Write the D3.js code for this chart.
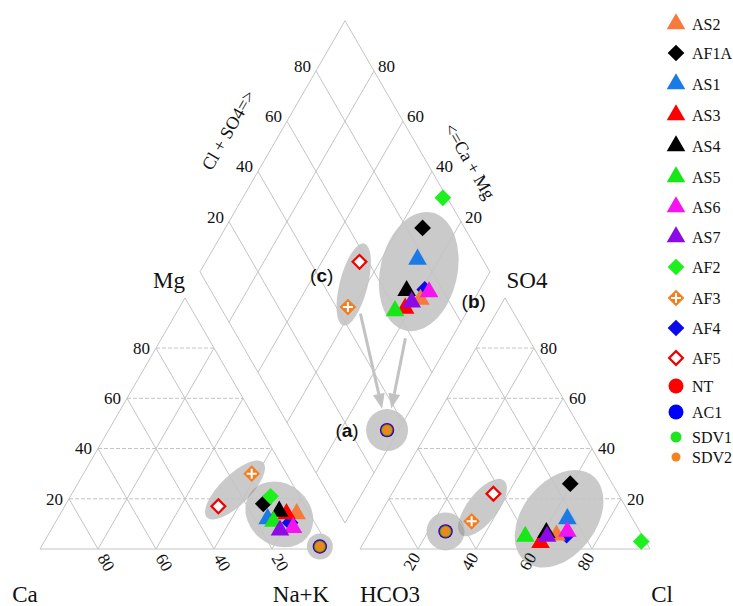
<!DOCTYPE html>
<html>
<head>
<meta charset="utf-8">
<script src="https://cdn.jsdelivr.net/npm/d3@7"></script>
<style>
body { margin: 0; background: #fff; }
svg { display: block; }
</style>
</head>
<body>
<svg id="chart" width="733" height="606"></svg>
<script>
// samples, in legend order
var series = ["AS2", "AF1A", "AS1", "AS3", "AS4", "AS5", "AS6", "AS7", "AF2", "AF3", "AF4", "AF5", "NT", "AC1", "SDV1", "SDV2"];

// cations, % meq
var ca  = [4.5, 14, 15.5, 8, 10, 14, 8.5, 13.5, 10, 12, 8.5, 30, 3, 3, 3, 3];
var mg  = [14, 18, 12, 14, 15, 11, 8.5, 7.5, 21, 30, 10.5, 17, 1, 1, 1, 1];
var nak = [81.5, 68, 72.5, 78, 75, 75, 83, 79, 69, 58, 81, 53, 96, 96, 96, 96];

// anions, % meq
var hco3 = [29.5, 14.5, 22.5, 36.5, 32.5, 40.5, 25, 33, 1.5, 56, 26, 43, 67, 67, 67, 67];
var so4  = [5.5, 26, 12, 2.5, 6.5, 5, 7, 5, 3, 11, 5.5, 22, 7, 7, 7, 7];
var cl   = [65, 59.5, 65.5, 61, 61, 54.5, 68, 62, 95.5, 33, 68.5, 35, 26, 26, 26, 26];

var ticks = [20, 40, 60, 80];

// groups that get a grey shading
var groupC = ["AF5", "AF3"];
var groupB = ["AS2", "AF1A", "AS1", "AS3", "AS4", "AS5", "AS6", "AS7", "AF4"];
var groupA = ["NT", "AC1", "SDV1", "SDV2"];

// marker styles
var shapes = ["tri", "dia", "tri", "tri", "tri", "tri", "tri", "tri", "dia", "cross", "dia", "open", "circ", "circ", "circ", "circ"];
var colors = ["#f57a3c", "#000000", "#1b7be6", "#ff0000", "#000000", "#17e617", "#f514f0", "#8c0ae6", "#1ef01e", "#f57d1e", "#0a0aeb", "#f00000", "#ff0000", "#0000ff", "#1ee61e", "#f5821e"];
var radii = {NT: 6.3, AC1: 7.2, SDV1: 5.4, SDV2: 4.4};
var legendR = {NT: 7.5, AC1: 7.5, SDV1: 5.5, SDV2: 4.5};
var drawOrder = ["AF1A", "AF2", "AF3", "AF4", "AF5", "AS2", "AS1", "AS3", "AS4", "AS5", "AS6", "AS7", "AC1", "NT", "SDV1", "SDV2"];

var serif = "'Liberation Serif', 'DejaVu Serif', 'Times New Roman', serif";
var svg = d3.select("#chart").attr("font-family", serif);

var L = 290, H = L * Math.sqrt(3) / 2, gap = 30;
var cat0 = [40, 549], an0 = [40 + L + gap, 549];
var dB = [40 + L + gap / 2, 549 - gap / 2 * Math.sqrt(3)];

var s  = d3.scaleLinear().domain([0, 100]).range([0, L]);
var sx = d3.scaleLinear().domain([0, 100]).range([0, L / 2]);
var sy = d3.scaleLinear().domain([0, 100]).range([0, H]);

function cation(top, right) { return [cat0[0] + s(right) + sx(top), cat0[1] - sy(top)]; }
function anion(top, right) { return [an0[0] + s(right) + sx(top), an0[1] - sy(top)]; }
function diamond(c, t) { return [dB[0] + sx(t) - sx(c), dB[1] - sy(c) - sy(t)]; }

var gridCol = "#c4c4c4";
var line = d3.line();

var gHull = svg.append("g");
var gGrid = svg.append("g").attr("fill", "none").attr("stroke", gridCol).attr("stroke-width", 1);
var gPts = svg.append("g");
var gTxt = svg.append("g").attr("fill", "#111");

// ---- grids
function triGrid(P) {
	ticks.forEach(function (t) {
		gGrid.append("path").attr("d", line([P(t, 0), P(t, 100 - t)])).attr("stroke-dasharray", "4,2");
		gGrid.append("path").attr("d", line([P(0, t), P(100 - t, t)]));
		gGrid.append("path").attr("d", line([P(0, 100 - t), P(100 - t, 0)]));
	});
	gGrid.append("path").attr("d", line([P(0, 0), P(0, 100), P(100, 0)]) + "Z");
}
triGrid(cation);
triGrid(anion);

ticks.forEach(function (t) {
	gGrid.append("path").attr("d", line([diamond(t, 0), diamond(t, 100)]));
	gGrid.append("path").attr("d", line([diamond(0, t), diamond(100, t)]));
});
gGrid.append("path").attr("d", line([diamond(0, 0), diamond(100, 0), diamond(100, 100), diamond(0, 100)]) + "Z");

// ---- positions of every sample in the three fields
var idx = {};
series.forEach(function (n, i) { idx[n] = i; });
var posCat = series.map(function (n, i) { return cation(mg[i], nak[i]); });
var posAn = series.map(function (n, i) { return anion(so4[i], cl[i]); });
var posDia = series.map(function (n, i) { return diamond(100 - nak[i], so4[i] + cl[i]); });

// ---- grey shadings: ellipse along the main direction of the group
function shade(pos, members, pad) {
	var pts = members.map(function (n) { return pos[idx[n]]; });
	var mx = d3.mean(pts, function (p) { return p[0]; }), my = d3.mean(pts, function (p) { return p[1]; });
	var sxx = 0, syy = 0, sxy = 0;
	pts.forEach(function (p) { var dx = p[0] - mx, dy = p[1] - my; sxx += dx * dx; syy += dy * dy; sxy += dx * dy; });
	var a = 0.5 * Math.atan2(2 * sxy, sxx - syy);
	var ux = Math.cos(a), uy = Math.sin(a);
	var us = pts.map(function (p) { return (p[0] - mx) * ux + (p[1] - my) * uy; });
	var vs = pts.map(function (p) { return -(p[0] - mx) * uy + (p[1] - my) * ux; });
	var u0 = d3.min(us), u1 = d3.max(us), v0 = d3.min(vs), v1 = d3.max(vs);
	var cu = (u0 + u1) / 2, cv = (v0 + v1) / 2;
	var cx = mx + cu * ux - cv * uy, cy = my + cu * uy + cv * ux;
	var rx = (u1 - u0) / 2 + pad[0], ry = (v1 - v0) / 2 + pad[1];
	gHull.append("ellipse")
		.attr("cx", 0).attr("cy", 0).attr("rx", rx).attr("ry", ry)
		.attr("transform", "translate(" + cx + "," + cy + ") rotate(" + (a * 180 / Math.PI) + ")")
		.attr("fill", "#7a7a7a").attr("fill-opacity", 0.4);
	return {x: cx, y: cy, rx: rx, ry: ry};
}

shade(posCat, groupC, [16, 15]);
shade(posCat, groupB.concat(["AF2"]), [17, 19]);
shade(posCat, groupA, [13, 13]);
shade(posAn, groupC, [17, 15]);
shade(posAn, groupB, [20, 21]);
shade(posAn, groupA, [19, 19]);
var hc = shade(posDia, groupC, [19, 14]);
var hb = shade(posDia, groupB, [17, 24]);
var ha = shade(posDia, groupA, [21, 21]);

// ---- arrows (b),(c) -> (a)
function arrow(from, d0, to, d1) {
	var dx = to.x - from.x, dy = to.y - from.y, len = Math.sqrt(dx * dx + dy * dy);
	var ux = dx / len, uy = dy / len;
	var x0 = from.x + ux * d0, y0 = from.y + uy * d0;
	var x1 = to.x - ux * d1, y1 = to.y - uy * d1;
	var hl = 15, hw = 6;
	var bx = x1 - ux * hl, by = y1 - uy * hl;
	gHull.append("path").attr("d", line([[x0, y0], [bx, by]]))
		.attr("stroke", "#c2c2c2").attr("stroke-width", 3).attr("fill", "none");
	gHull.append("path").attr("d", line([[x1, y1], [bx - uy * hw, by + ux * hw], [bx + uy * hw, by - ux * hw]]) + "Z")
		.attr("fill", "#c2c2c2");
}
arrow(hc, 30, ha, 22);
arrow(hb, 68, ha, 22);

// ---- markers
function marker(g, i, x, y, legend) {
	var n = series[i], sh = shapes[i], col = colors[i];
	var t = "translate(" + x + "," + y + ")";
	if (sh == "tri") {
		g.append("path").attr("d", d3.symbol(d3.symbolTriangle, 150)()).attr("transform", t).attr("fill", col);
	} else if (sh == "dia") {
		g.append("path").attr("d", d3.symbol(d3.symbolSquare, 140)()).attr("transform", t + " rotate(45)").attr("fill", col);
	} else if (sh == "cross") {
		g.append("path").attr("d", d3.symbol(d3.symbolSquare, 140)()).attr("transform", t + " rotate(45)").attr("fill", col);
		g.append("path").attr("d", "M-5,0H5M0,-5V5").attr("transform", t).attr("stroke", "#fff").attr("stroke-width", 2);
	} else if (sh == "open") {
		g.append("path").attr("d", d3.symbol(d3.symbolSquare, 95)()).attr("transform", t + " rotate(45)")
			.attr("fill", "#fff").attr("stroke", col).attr("stroke-width", 2.2);
	} else {
		g.append("circle").attr("cx", x).attr("cy", y).attr("r", legend ? legendR[n] : radii[n]).attr("fill", col);
	}
}

[posCat, posAn, posDia].forEach(function (pos) {
	drawOrder.forEach(function (n) {
		var i = idx[n];
		marker(gPts, i, pos[i][0], pos[i][1], false);
	});
});

// ---- tick labels
ticks.forEach(function (t) {
	var p = cation(t, 0);
	gTxt.append("text").attr("x", p[0] - 6).attr("y", p[1]).attr("dy", "0.35em")
		.attr("text-anchor", "end").attr("font-size", 17).text(t);
	p = cation(0, t);
	gTxt.append("text").attr("transform", "translate(" + (p[0] - 1) + "," + (p[1] + 9) + ") rotate(60)")
		.attr("font-size", 17).text(100 - t);
	p = anion(t, 100 - t);
	gTxt.append("text").attr("x", p[0] + 6).attr("y", p[1]).attr("dy", "0.35em")
		.attr("font-size", 17).text(t);
	p = anion(0, t);
	gTxt.append("text").attr("transform", "translate(" + (p[0] + 3) + "," + (p[1] + 8) + ") rotate(-60)")
		.attr("text-anchor", "end").attr("font-size", 17).text(t);
	p = diamond(100, t);
	gTxt.append("text").attr("x", p[0] - 5).attr("y", p[1] - 5).attr("dy", "0.35em")
		.attr("text-anchor", "end").attr("font-size", 17).text(t);
	p = diamond(t, 100);
	gTxt.append("text").attr("x", p[0] + 4).attr("y", p[1] - 5).attr("dy", "0.35em")
		.attr("font-size", 17).text(t);
});

// ---- axis titles
function title(txt, x, y, size, rot) {
	gTxt.append("text").attr("transform", "translate(" + x + "," + y + ")" + (rot ? " rotate(" + rot + ")" : ""))
		.attr("text-anchor", "middle").attr("font-size", size).text(txt);
}
var capex = cation(100, 0), aapex = anion(100, 0);
title("Mg", capex[0] - 16, capex[1] - 10, 23);
title("SO4", aapex[0] + 22, aapex[1] - 10, 23);
title("Ca", cat0[0] - 15, 602, 23);
title("Na+K", cat0[0] + L - 29, 602, 23);
title("HCO3", an0[0] + 30, 602, 23);
title("Cl", an0[0] + L + 12, 602, 23);
var dl = diamond(100, 50), dr = diamond(50, 100);
title("Cl + SO4=>", dl[0] - 39, dl[1] - 13, 18, -60);
title("<=Ca + Mg", dr[0] + 47, dr[1] + 18, 18, 60);

// ---- (a) (b) (c)
function tag(letter, x, y) {
	var t = gTxt.append("text").attr("x", x).attr("y", y).attr("text-anchor", "middle")
		.attr("font-family", "'Liberation Sans', Arial, sans-serif").attr("font-size", 19);
	t.append("tspan").text("(");
	t.append("tspan").attr("font-weight", "bold").text(letter);
	t.append("tspan").text(")");
}
tag("a", ha.x - 40, ha.y + 7);
tag("b", hb.x + 55, hb.y + 36);
tag("c", hc.x - 32, hc.y - 2);

// ---- legend
var legY = [24, 53, 84, 115, 146, 177, 207, 237, 267, 298, 328, 358, 386, 412, 437, 457];
var gLeg = svg.append("g");
series.forEach(function (n, i) {
	marker(gLeg, i, 676, legY[i], true);
	gLeg.append("text").attr("x", 692).attr("y", legY[i]).attr("dy", "0.35em")
		.attr("font-size", 16).attr("fill", "#111").text(n);
});
</script>
</body>
</html>
